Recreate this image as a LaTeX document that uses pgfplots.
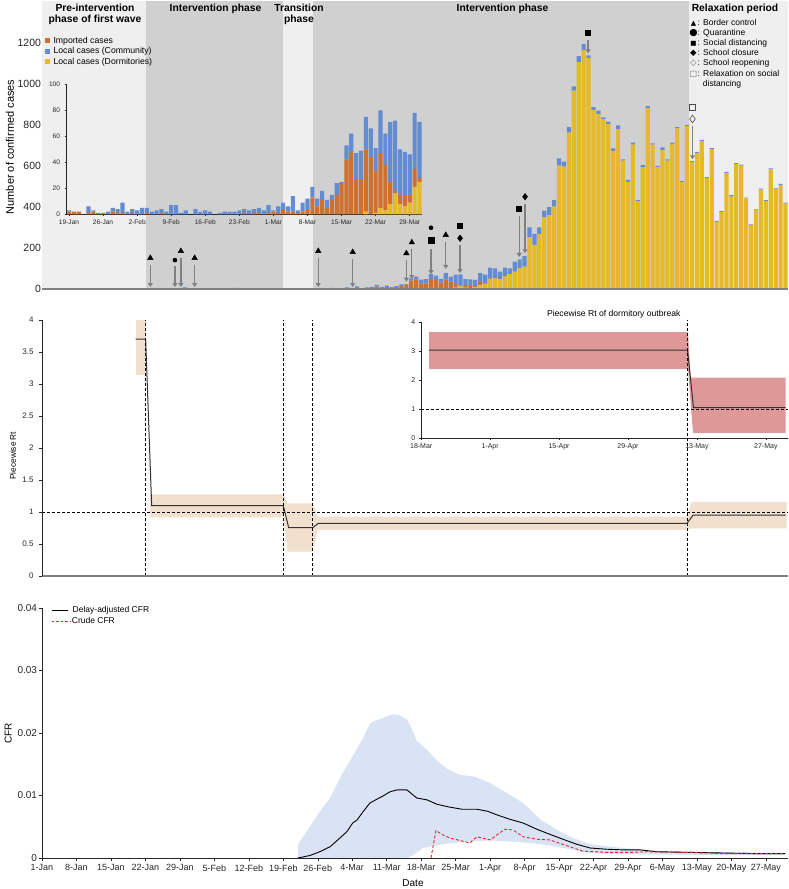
\documentclass[border=0pt]{standalone}
\usepackage{pgfplots}
\pgfplotsset{compat=1.18}
\usepackage{pgfplotstable}
\usepackage{fontspec}
\setmainfont{Liberation Sans}
\newfontfamily\dejavu{DejaVu Sans}
\usetikzlibrary{arrows.meta}

\definecolor{phL}{RGB}{239,239,239}
\definecolor{phD}{RGB}{208,208,208}
\definecolor{cimp}{RGB}{206,112,48}
\definecolor{ccomm}{RGB}{100,140,210}
\definecolor{cdorm}{RGB}{230,185,40}
\definecolor{axgray}{RGB}{128,128,128}
\definecolor{beige}{RGB}{241,224,205}
\definecolor{pinkband}{RGB}{223,152,152}
\definecolor{lblue}{RGB}{218,227,243}
\definecolor{crude}{RGB}{220,40,40}

\pgfplotsset{every axis/.append style={/pgf/number format/assume math mode=true,/pgf/number format/1000 sep={}}}

\pgfplotstableread{
o dorm imp comm
18 0 2 1
19 0 2 0
20 0 2 0
21 0 0 0
22 0 1 5
23 0 2 1
24 0 1 0
25 0 1 0
26 0 0 2
27 0 2 3
28 0 1 3
29 0 1 8
30 0 0 2
31 0 1 3
32 0 0 3
33 0 0 5
34 0 1 4
35 0 0 2
36 0 0 3
37 0 1 3
38 0 0 2
39 0 0 7
40 0 0 7
41 0 0 1
42 0 0 3
43 0 0 0
44 0 0 4
45 0 0 2
46 0 0 3
47 0 0 2
48 0 0 0
49 0 0 1
50 0 0 2
51 0 0 2
52 0 0 2
53 0 0 3
54 0 1 3
55 0 0 3
56 0 1 3
57 0 1 4
58 0 0 3
59 0 1 6
60 0 2 1
61 0 1 5
62 0 4 5
63 0 2 4
64 0 2 12
65 0 1 2
66 0 2 7
67 0 4 8
68 0 13 8
69 0 6 6
70 0 11 7
71 0 5 6
72 0 11 4
73 0 15 9
74 0 24 1
75 0 42 11
76 0 48 14
77 0 27 20
78 0 27 22
79 2 48 25
80 0 44 22
81 1 32 18
82 5 42 33
83 3 35 24
84 8 17 46
85 16 2 54
86 8 7 35
87 6 9 33
88 9 6 31
89 21 14 43
90 25 3 43
91 50 3 52
92 53 3 46
93 49 2 35
94 62 1 42
95 75 0 27
96 86 0 49
97 102 0 44
98 110 0 52
99 253 0 48
100 216 0 53
101 269 0 32
102 350 0 32
103 361 0 38
104 402 0 32
105 601 0 36
106 596 0 25
107 762 0 26
108 966 0 20
109 1104 0 30
110 1164 0 29
111 1125 0 12
112 872 0 13
113 853 0 16
114 827 0 9
115 803 0 12
116 673 0 12
117 778 0 19
118 626 0 6
119 522 0 10
120 703 0 10
121 428 0 6
122 593 0 10
123 880 0 11
124 703 0 6
125 594 0 6
126 677 0 13
127 626 0 6
128 705 3 5
129 782 0 6
130 522 0 5
131 794 0 5
132 619 0 5
133 663 0 5
134 721 0 5
135 540 0 5
136 681 0 5
137 328 0 4
138 376 0 5
139 566 0 5
140 450 0 9
141 608 0 5
142 601 0 5
143 442 0 4
144 312 0 4
145 385 0 4
146 485 0 4
147 430 0 4
148 583 0 5
149 487 0 4
150 507 0 5
151 417 0 4
}\cases

\begin{document}
\begin{tikzpicture}
\useasboundingbox (0pt,0pt) rectangle (789pt,889pt);

% ================= TOP PANEL: phase background =================
\begin{axis}[at={(42pt,599.7pt)}, anchor=south west, scale only axis,
  width=746pt, height=288pt, xmin=0, xmax=151.5, ymin=0, ymax=1400,
  hide axis]
\addplot[fill=phL, draw=none] coordinates {(0,0) (0,1400) (21.1,1400) (21.1,0)} -- cycle;
\addplot[fill=phD, draw=none] coordinates {(21.1,0) (21.1,1400) (49,1400) (49,0)} -- cycle;
\addplot[fill=phL, draw=none] coordinates {(49,0) (49,1400) (55,1400) (55,0)} -- cycle;
\addplot[fill=phD, draw=none] coordinates {(55,0) (55,1400) (131.3,1400) (131.3,0)} -- cycle;
\addplot[fill=phL, draw=none] coordinates {(131.3,0) (131.3,1400) (151.5,1400) (151.5,0)} -- cycle;
\end{axis}

% ================= TOP PANEL: bars =================
\begin{axis}[at={(42pt,599.7pt)}, anchor=south west, scale only axis,
  width=746pt, height=288pt, xmin=0, xmax=151.5, ymin=0, ymax=1400,
  ybar stacked, bar width=0.85,
  axis x line*=bottom, axis y line*=left,
  y axis line style={draw=none},
  x axis line style={draw=axgray, line width=1.6pt},
  axis on top,
  xtick=\empty, ytick={0,200,400,600,800,1000,1200},
  yticklabels={0,200,400,600,800,1000,1200},
  major tick length=0pt,
  yticklabel style={font=\fontsize{10.5}{12}\selectfont, xshift=2.5pt, text=black!85}]
\addplot[fill=cdorm, draw=none] table[x=o, y=dorm] {\cases};
\addplot[fill=cimp, draw=none] table[x=o, y=imp] {\cases};
\addplot[fill=ccomm, draw=none] table[x=o, y=comm] {\cases};
\end{axis}

% annotation axis: arrows and intervention markers
\begin{axis}[at={(42pt,599.7pt)}, anchor=south west, scale only axis,
  width=746pt, height=288pt, xmin=0, xmax=151.5, ymin=0, ymax=1400,
  hide axis, clip=false]
\foreach \xo/\ya/\yb in {22.0/118/11, 27.0/113/11, 28.2/152/11, 31.0/118/11, 56.1/152/11, 63.1/147/11, 74.0/142/37, 75.1/196/50, 79.0/196/74, 82.0/231/99, 84.9/215/79, 96.9/356/157, 98.1/415/175, 110.9/1212/1147, 132.1/794/632}{
  \edef\temp{\noexpand\draw[axgray, line width=1.3pt, -{Triangle[length=4pt,width=5pt]}] (axis cs:\xo,\ya) -- (axis cs:\xo,\yb);}
  \temp
}
\addplot[only marks, mark=triangle*, mark size=3.2pt, black] coordinates {(22.0,152) (28.2,186) (31.0,152) (56.1,186) (63.1,181) (74.0,175) (75.1,228) (82.0,264)};
\addplot[only marks, mark=*, mark size=2.1pt, black] coordinates {(27.0,142) (79.0,299)};
\addplot[only marks, mark=square*, mark size=3pt, black] coordinates {(79.0,240)};
\addplot[only marks, mark=square*, mark size=2.5pt, black] coordinates {(84.9,309) (96.9,394) (110.9,1247)};
\addplot[only marks, mark=diamond*, mark size=3.3pt, black] coordinates {(84.9,248) (98.1,450)};
\addplot[only marks, mark=diamond, mark size=3.8pt, black!70, mark options={line width=0.6pt}] coordinates {(132.1,828)};
\addplot[only marks, mark=square, mark size=3pt, black!70, mark options={line width=0.6pt}] coordinates {(132.1,885)};
\end{axis}

% top inset
\begin{axis}[at={(66.57pt,674.7pt)}, anchor=south west, scale only axis,
  width=355.3pt, height=130pt, xmin=17.5, xmax=90.5, ymin=0, ymax=100,
  ybar stacked, bar width=0.85,
  axis x line*=bottom, axis y line*=left,
  axis line style={draw=black!85, line width=0.7pt},
  tick align=outside, major tick length=2pt, tick style={black!85, line width=0.5pt},
  ytick={0,20,40,60,80,100}, yticklabels={0,20,40,60,80,100},
  xtick={18,25,32,39,46,53,60,67,74,81,88},
  xticklabels={19-Jan,26-Jan,2-Feb,9-Feb,16-Feb,23-Feb,1-Mar,8-Mar,15-Mar,22-Mar,29-Mar},
  tick label style={font=\fontsize{6.6}{7}\selectfont, text=black!85},
  yticklabel style={xshift=-1pt}]
\addplot[fill=cdorm, draw=none, restrict x to domain=17:91] table[x=o, y=dorm] {\cases};
\addplot[fill=cimp, draw=none, restrict x to domain=17:91] table[x=o, y=imp] {\cases};
\addplot[fill=ccomm, draw=none, restrict x to domain=17:91] table[x=o, y=comm] {\cases};
\end{axis}

% phase titles
\begin{scope}[every node/.style={font=\bfseries\fontsize{10.3}{12}\selectfont, anchor=base}]
\node at (95pt,877.6pt) {Pre-intervention};
\node at (95pt,866pt) {phase of first wave};
\node at (215.5pt,877.6pt) {Intervention phase};
\node at (299pt,877.6pt) {Transition};
\node at (299pt,866pt) {phase};
\node at (502.5pt,877.6pt) {Intervention phase};
\node at (735pt,877.6pt) {Relaxation period};
\end{scope}

% left legend (cases)
\begin{scope}[every node/.style={font=\fontsize{8.7}{10}\selectfont, anchor=base west, inner sep=0pt}]
\node at (45pt,845.7pt) {\textcolor{cimp}{\rule{5pt}{5pt}}\hspace{3.3pt}Imported cases};
\node at (45pt,835pt) {\textcolor{ccomm}{\rule{5pt}{5pt}}\hspace{3.3pt}Local cases (Community)};
\node at (45pt,824.7pt) {\textcolor{cdorm}{\rule{5pt}{5pt}}\hspace{3.3pt}Local cases (Dormitories)};
\end{scope}

% right legend (interventions)
\begin{scope}[every node/.style={font=\fontsize{8.5}{10}\selectfont, anchor=base west, inner sep=0pt}]
\node at (689pt,863pt) {\makebox[8.5pt][c]{\dejavu\fontsize{7}{8}\selectfont ▲}: Border control};
\node at (689pt,853.7pt) {\makebox[8.5pt][c]{\dejavu\fontsize{9.5}{10}\selectfont ●}: Quarantine};
\node at (689pt,843.7pt) {\makebox[8.5pt][c]{\dejavu\fontsize{6.5}{8}\selectfont ■}: Social distancing};
\node at (689pt,833.3pt) {\makebox[8.5pt][c]{\dejavu\fontsize{8.5}{9}\selectfont ◆}: School closure};
\node at (689pt,823.3pt) {\makebox[8.5pt][c]{\dejavu\fontsize{8.5}{9}\selectfont\color{black!60}◇}: School reopening};
\node at (689pt,812.7pt) {\makebox[8.5pt][c]{\dejavu\fontsize{8}{9}\selectfont\color{black!60}□}: Relaxation on social};
\node at (702.7pt,802.7pt) {distancing};
\end{scope}

\node[rotate=90, font=\fontsize{11}{12}\selectfont] at (10pt,742pt) {Number of confirmed cases};

% ================= MIDDLE PANEL: Rt =================
\begin{axis}[at={(421.2pt,451pt)}, anchor=south west, scale only axis,
  width=366.8pt, height=116pt, xmin=77, xmax=151.5, ymin=0, ymax=4,
  axis x line*=bottom, axis y line*=left,
  axis line style={draw=black!85, line width=0.7pt},
  tick align=outside, major tick length=2.5pt, tick style={black!85, line width=0.5pt},
  ytick={0,1,2,3,4}, yticklabels={0,1,2,3,4},
  xtick={77,91,105,119,133,147},
  xticklabels={18-Mar,1-Apr,15-Apr,29-Apr,13-May,27-May},
  tick label style={font=\fontsize{7}{8}\selectfont, text=black!85}]
\addplot[fill=pinkband, draw=none] coordinates {(78.6,3.65) (131.2,3.65) (131.7,2.08) (151,2.08) (151,0.18) (132.2,0.18) (131.2,2.38) (78.6,2.38)} -- cycle;
\addplot[black!80, line width=1pt] coordinates {(78.6,3.03) (131.1,3.03) (132.3,1.05) (151,1.05)};
\addplot[black, line width=0.7pt, dash pattern=on 3pt off 2pt] coordinates {(77,1) (151.5,1)};
\end{axis}
\node[font=\fontsize{8.6}{10}\selectfont, anchor=base] at (613.7pt,572.7pt) {Piecewise Rt of dormitory outbreak};

\begin{axis}[at={(42pt,313pt)}, anchor=south west, scale only axis,
  width=746pt, height=256pt, xmin=0, xmax=151.5, ymin=0, ymax=4,
  axis x line*=bottom, axis y line*=left,
  x axis line style={draw=axgray, line width=1.5pt},
  y axis line style={draw=black!85, line width=0.8pt},
  axis on top,
  tick align=outside, major tick length=3pt, tick style={black!85, line width=0.5pt},
  xtick=\empty,
  ytick={0,0.5,1,1.5,2,2.5,3,3.5,4},
  yticklabels={0,0.5,1,1.5,2,2.5,3,3.5,4},
  yticklabel style={font=\fontsize{8}{9}\selectfont, text=black!85, xshift=-2pt},
  clip=false]
\addplot[fill=beige, draw=none] coordinates {(19.0,3.14) (21.05,3.14) (21.05,4) (19.0,4)} -- cycle;
\addplot[fill=beige, draw=none] coordinates {(21.9,1.277) (49.0,1.277) (49.9,1.136) (55.0,1.136) (56.0,0.927) (131.0,0.927) (131.9,1.16) (151.2,1.16) (151.2,0.745) (131.9,0.745) (131.0,0.72) (56.0,0.72) (55.0,0.38) (49.9,0.38) (49.0,0.917) (21.9,0.917)} -- cycle;
\addplot[black!80, line width=1pt] coordinates {(19.02,3.70) (21.05,3.70) (22.27,1.10) (49.0,1.10) (50.1,0.755) (55.0,0.755) (56.1,0.823) (131.0,0.823) (132.25,0.953) (151.0,0.953)};
\addplot[black, line width=0.7pt, dash pattern=on 3pt off 2pt] coordinates {(0,1) (151.5,1)};
\addplot[black, line width=0.7pt, dash pattern=on 3pt off 2pt] coordinates {(21.05,0) (21.05,4)};
\addplot[black, line width=0.7pt, dash pattern=on 3pt off 2pt] coordinates {(49.0,0) (49.0,4)};
\addplot[black, line width=0.7pt, dash pattern=on 3pt off 2pt] coordinates {(55.0,0) (55.0,4)};
\addplot[black, line width=0.7pt, dash pattern=on 3pt off 2pt] coordinates {(131.05,0) (131.05,4)};
\end{axis}
\node[rotate=90, font=\fontsize{8.3}{9}\selectfont] at (13pt,433.3pt) {Piecewise Rt};

% ================= BOTTOM PANEL: CFR =================
\begin{axis}[at={(42pt,31pt)}, anchor=south west, scale only axis,
  width=746pt, height=250pt, xmin=0, xmax=151.5, ymin=0, ymax=0.04,
  axis x line*=bottom, axis y line*=left,
  axis line style={draw=black!85, line width=0.8pt},
  axis on top,
  tick align=outside, major tick length=3pt, tick style={black!85, line width=0.5pt},
  xtick={0,7,...,147},
  xticklabels={1-Jan,8-Jan,15-Jan,22-Jan,29-Jan,5-Feb,12-Feb,19-Feb,26-Feb,4-Mar,11-Mar,18-Mar,25-Mar,1-Apr,8-Apr,15-Apr,22-Apr,29-Apr,6-May,13-May,20-May,27-May},
  ytick={0,0.01,0.02,0.03,0.04}, yticklabels={0,0.01,0.02,0.03,0.04},
  scaled y ticks=false,
  xticklabel style={font=\fontsize{9}{10}\selectfont, text=black!85},
  yticklabel style={font=\fontsize{10}{11}\selectfont, text=black!85, xshift=1.5pt}]
\addplot[fill=lblue, draw=none] coordinates {
(52.0,0.0022) (54.4,0.0050) (56.4,0.0074) (58.5,0.0096) (59.1,0.0106) (61.0,0.0135) (62.5,0.0155) (64.0,0.0175) (65.2,0.0192) (66.6,0.0215) (67.4,0.0219) (68.6,0.0222) (70.0,0.0227) (71.4,0.0230) (72.5,0.0229) (74.1,0.0222) (75.2,0.0205) (76.1,0.0187) (78.2,0.0173) (80.2,0.0156) (82.4,0.0142) (84.9,0.0133) (87.9,0.0130) (91.0,0.0120) (94.4,0.0104) (97.7,0.0088) (99.5,0.0075) (101.1,0.0062) (104.6,0.0045) (107.8,0.0032) (111.3,0.0022) (118.0,0.0016) (124.9,0.0011) (131.6,0.0010) (151.0,0.0008)
(151.0,0.0005) (131.6,0.0005) (118.0,0.0006) (111.3,0.0008) (107.2,0.0014) (104.6,0.0018) (102.5,0.0021) (97.7,0.0025) (91.0,0.0028) (87.5,0.0027) (82.2,0.0023) (77.4,0.0016) (75.3,0.0004) (74.0,0) (52.0,0)} -- cycle;
\addplot[black, line width=0.9pt] coordinates {
(52.0,0) (54.4,0.0004) (56.4,0.0010) (58.5,0.0018) (60.5,0.0032) (61.9,0.0042) (63.1,0.0056) (64.0,0.0061) (65.2,0.0074) (66.6,0.0088) (68.0,0.0094) (69.2,0.0099) (70.7,0.0106) (72.1,0.0109) (74.1,0.0109) (76.1,0.0096) (78.2,0.0093) (80.2,0.0086) (82.4,0.0082) (85.3,0.0078) (88.3,0.0078) (90.4,0.0075) (92.4,0.0069) (95.0,0.0062) (97.7,0.0056) (100.5,0.0046) (103.1,0.0038) (105.8,0.0030) (108.6,0.0022) (111.3,0.0016) (114.7,0.0014) (118.0,0.0013) (121.4,0.0013) (124.9,0.0010) (131.6,0.0009) (138.3,0.0008) (145.2,0.0007) (150.9,0.0007)};
\addplot[crude, line width=0.9pt, dash pattern=on 3pt off 2pt] coordinates {
(79.0,0) (80.0,0.0044) (81.4,0.0037) (82.8,0.0032) (84.9,0.0028) (86.9,0.0024) (88.3,0.0034) (91.0,0.0029) (92.4,0.0037) (94.0,0.0046) (95.6,0.0045) (97.7,0.0034) (100.5,0.0030) (103.1,0.0029) (104.6,0.0025) (107.2,0.0018) (109.8,0.0011) (114.7,0.0009) (120.0,0.0009) (122.8,0.0010) (131.6,0.0009) (138.3,0.0007) (150.9,0.0007)};
\end{axis}

% bottom legend
\draw[black, line width=0.9pt] (51.7pt,279pt) -- (68.3pt,279pt);
\node[font=\fontsize{8.5}{10}\selectfont, anchor=base west, inner sep=0pt] at (72.5pt,276pt) {Delay-adjusted CFR};
\draw[crude, line width=0.9pt, dash pattern=on 2.5pt off 2pt] (51.7pt,268pt) -- (70pt,268pt);
\node[font=\fontsize{8.5}{10}\selectfont, anchor=base west, inner sep=0pt] at (71.7pt,265pt) {Crude CFR};

\node[rotate=90, font=\fontsize{10}{11}\selectfont] at (8.3pt,155.7pt) {CFR};
\node[font=\fontsize{10}{11}\selectfont] at (413pt,6pt) {Date};
\end{tikzpicture}
\end{document}
